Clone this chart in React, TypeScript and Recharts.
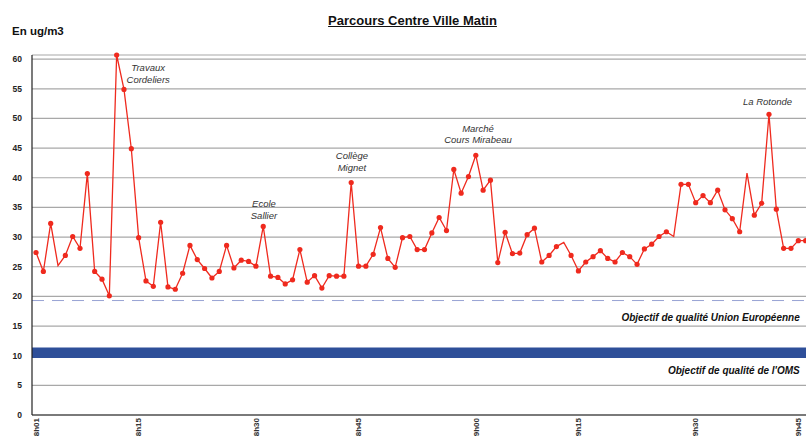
import React from "react";
import {
  LineChart,
  Line,
  XAxis,
  YAxis,
  CartesianGrid,
  ReferenceLine,
  ReferenceArea,
  ReferenceDot,
} from "recharts";

// one reading roughly every minute along the route
const values = [
  27.4, 24.2, 32.3, 25.2, 26.9, 30.1, 28.1, 40.7, 24.2, 22.9,
  20.1, 60.7, 54.9, 44.9, 29.9, 22.6, 21.7, 32.5, 21.6, 21.2,
  23.9, 28.6, 26.2, 24.7, 23.1, 24.2, 28.6, 24.8, 26.1, 25.9,
  25.1, 31.8, 23.4, 23.2, 22.1, 22.8, 27.9, 22.4, 23.5, 21.4,
  23.5, 23.4, 23.4, 39.2, 25.1, 25.1, 27.1, 31.6, 26.4, 24.9,
  29.9, 30.1, 27.9, 27.9, 30.7, 33.3, 31.1, 41.4, 37.4, 40.2,
  43.8, 37.9, 39.6, 25.7, 30.8, 27.2, 27.3, 30.4, 31.5, 25.8,
  26.9, 28.4, 29.1, 26.9, 24.3, 25.8, 26.7, 27.7, 26.4, 25.8,
  27.4, 26.7, 25.4, 28.0, 28.8, 30.1, 30.9, 30.1, 38.9, 38.9,
  35.8, 37.0, 35.8, 37.9, 34.6, 33.1, 30.9, 40.8, 33.7, 35.7,
  50.7, 34.7, 28.1, 28.1, 29.4, 29.4,
];
// vertices drawn without a marker
const noMarker = [3, 72, 87, 97];

const tickIdx = [0, 14, 30, 44, 60, 74, 90, 104];
const tickLabels = ["8h01", "8h15", "8h30", "8h45", "9h00", "9h15", "9h30", "9h45"];
const yTicks = [0, 5, 10, 15, 20, 25, 30, 35, 40, 45, 50, 55, 60];

const euTarget = 19.3;
const omsBand = [9.6, 11.4];

const sites = [
  { x: 15.3, y: 58.5, lines: ["Travaux", "Cordeliers"] },
  { x: 31.1, y: 35.6, lines: ["Ecole", "Sallier"] },
  { x: 43.1, y: 43.7, lines: ["Collège", "Mignet"] },
  { x: 60.3, y: 48.3, lines: ["Marché", "Cours Mirabeau"] },
  { x: 99.8, y: 52.8, lines: ["La Rotonde"] },
];

const targets = [
  { x: 104.2, y: 16.5, text: "Objectif de qualité Union Européenne" },
  { x: 104.2, y: 7.5, text: "Objectif de qualité de l'OMS" },
];

const FONT = "'Liberation Sans', Arial, sans-serif";
const RED = "#ef2a1e";

const data = values.map((v, i) => ({ i, v }));

function XTick(props: any) {
  const { x, y, payload } = props;
  const k = tickIdx.indexOf(payload.value);
  const y0 = y + 1;
  return (
    <text
      x={x}
      y={y0}
      dy="0.35em"
      transform={`rotate(-90 ${x} ${y0})`}
      textAnchor="end"
      fontSize={8}
      fontWeight="bold"
      fill="#333"
      fontFamily={FONT}
    >
      {tickLabels[k]}
    </text>
  );
}

function renderDot(props: any) {
  const { cx, cy, index } = props;
  if (noMarker.includes(index)) return <g key={`d${index}`} />;
  return <circle key={`d${index}`} cx={cx} cy={cy} r={2.6} fill={RED} />;
}

function siteNote(lines: string[]) {
  return (p: any) => (
    <text
      x={p.cx}
      y={p.cy}
      textAnchor="middle"
      fontSize={9.5}
      fontStyle="italic"
      fill="#333"
      fontFamily={FONT}
    >
      {lines.map((l, k) => (
        <tspan key={l} x={p.cx} dy={k === 0 ? "0.35em" : 11.5}>
          {l}
        </tspan>
      ))}
    </text>
  );
}

function targetNote(text: string) {
  return (p: any) => (
    <text
      x={p.cx}
      y={p.cy}
      dy="0.35em"
      textAnchor="end"
      fontSize={10}
      fontStyle="italic"
      fontWeight="bold"
      fill="#111"
      fontFamily={FONT}
    >
      {text}
    </text>
  );
}

export default function App() {
  return (
    <div
      style={{
        position: "absolute",
        left: 0,
        top: 0,
        width: 806,
        height: 439,
        overflow: "hidden",
        background: "#fff",
        fontFamily: FONT,
      }}
    >
      <div
        style={{
          position: "absolute",
          left: 0,
          width: 825,
          top: 13,
          textAlign: "center",
          fontSize: 13,
          fontWeight: "bold",
          textDecoration: "underline",
          color: "#111",
        }}
      >
        Parcours Centre Ville Matin
      </div>
      <div
        style={{
          position: "absolute",
          left: 12,
          top: 25,
          fontSize: 11.5,
          fontWeight: "bold",
          color: "#111",
        }}
      >
        En ug/m3
      </div>
      <LineChart
        width={806}
        height={439}
        data={data}
        margin={{ top: 55, right: 0, bottom: 0, left: 0 }}
      >
        <CartesianGrid vertical={false} stroke="#a8a8a8" strokeWidth={1.2} />
        <XAxis
          dataKey="i"
          type="number"
          domain={[-0.55, 105.05]}
          allowDataOverflow
          ticks={tickIdx}
          interval={0}
          tick={<XTick />}
          tickLine={false}
          tickSize={0}
          axisLine={{ stroke: "#222", strokeWidth: 1.2 }}
          height={24}
        />
        <YAxis
          type="number"
          domain={[0, 60]}
          ticks={yTicks}
          interval={0}
          width={32}
          tickLine={false}
          tickSize={0}
          tickMargin={10}
          axisLine={{ stroke: "#222", strokeWidth: 1.2 }}
          tick={{ fontSize: 8.5, fontWeight: "bold", fill: "#222", fontFamily: FONT }}
        />
        <ReferenceArea y1={omsBand[0]} y2={omsBand[1]} fill="#2e4f99" fillOpacity={1} stroke="none" />
        <ReferenceLine y={euTarget} stroke="#98a4d4" strokeDasharray="12 8" strokeWidth={1} />
        {targets.map((t) => (
          <ReferenceDot key={t.text} x={t.x} y={t.y} r={0} shape={targetNote(t.text)} />
        ))}
        {sites.map((s) => (
          <ReferenceDot key={s.lines[0]} x={s.x} y={s.y} r={0} shape={siteNote(s.lines)} />
        ))}
        <Line
          type="linear"
          dataKey="v"
          stroke={RED}
          strokeWidth={1.3}
          dot={renderDot}
          activeDot={false}
          isAnimationActive={false}
        />
      </LineChart>
    </div>
  );
}
